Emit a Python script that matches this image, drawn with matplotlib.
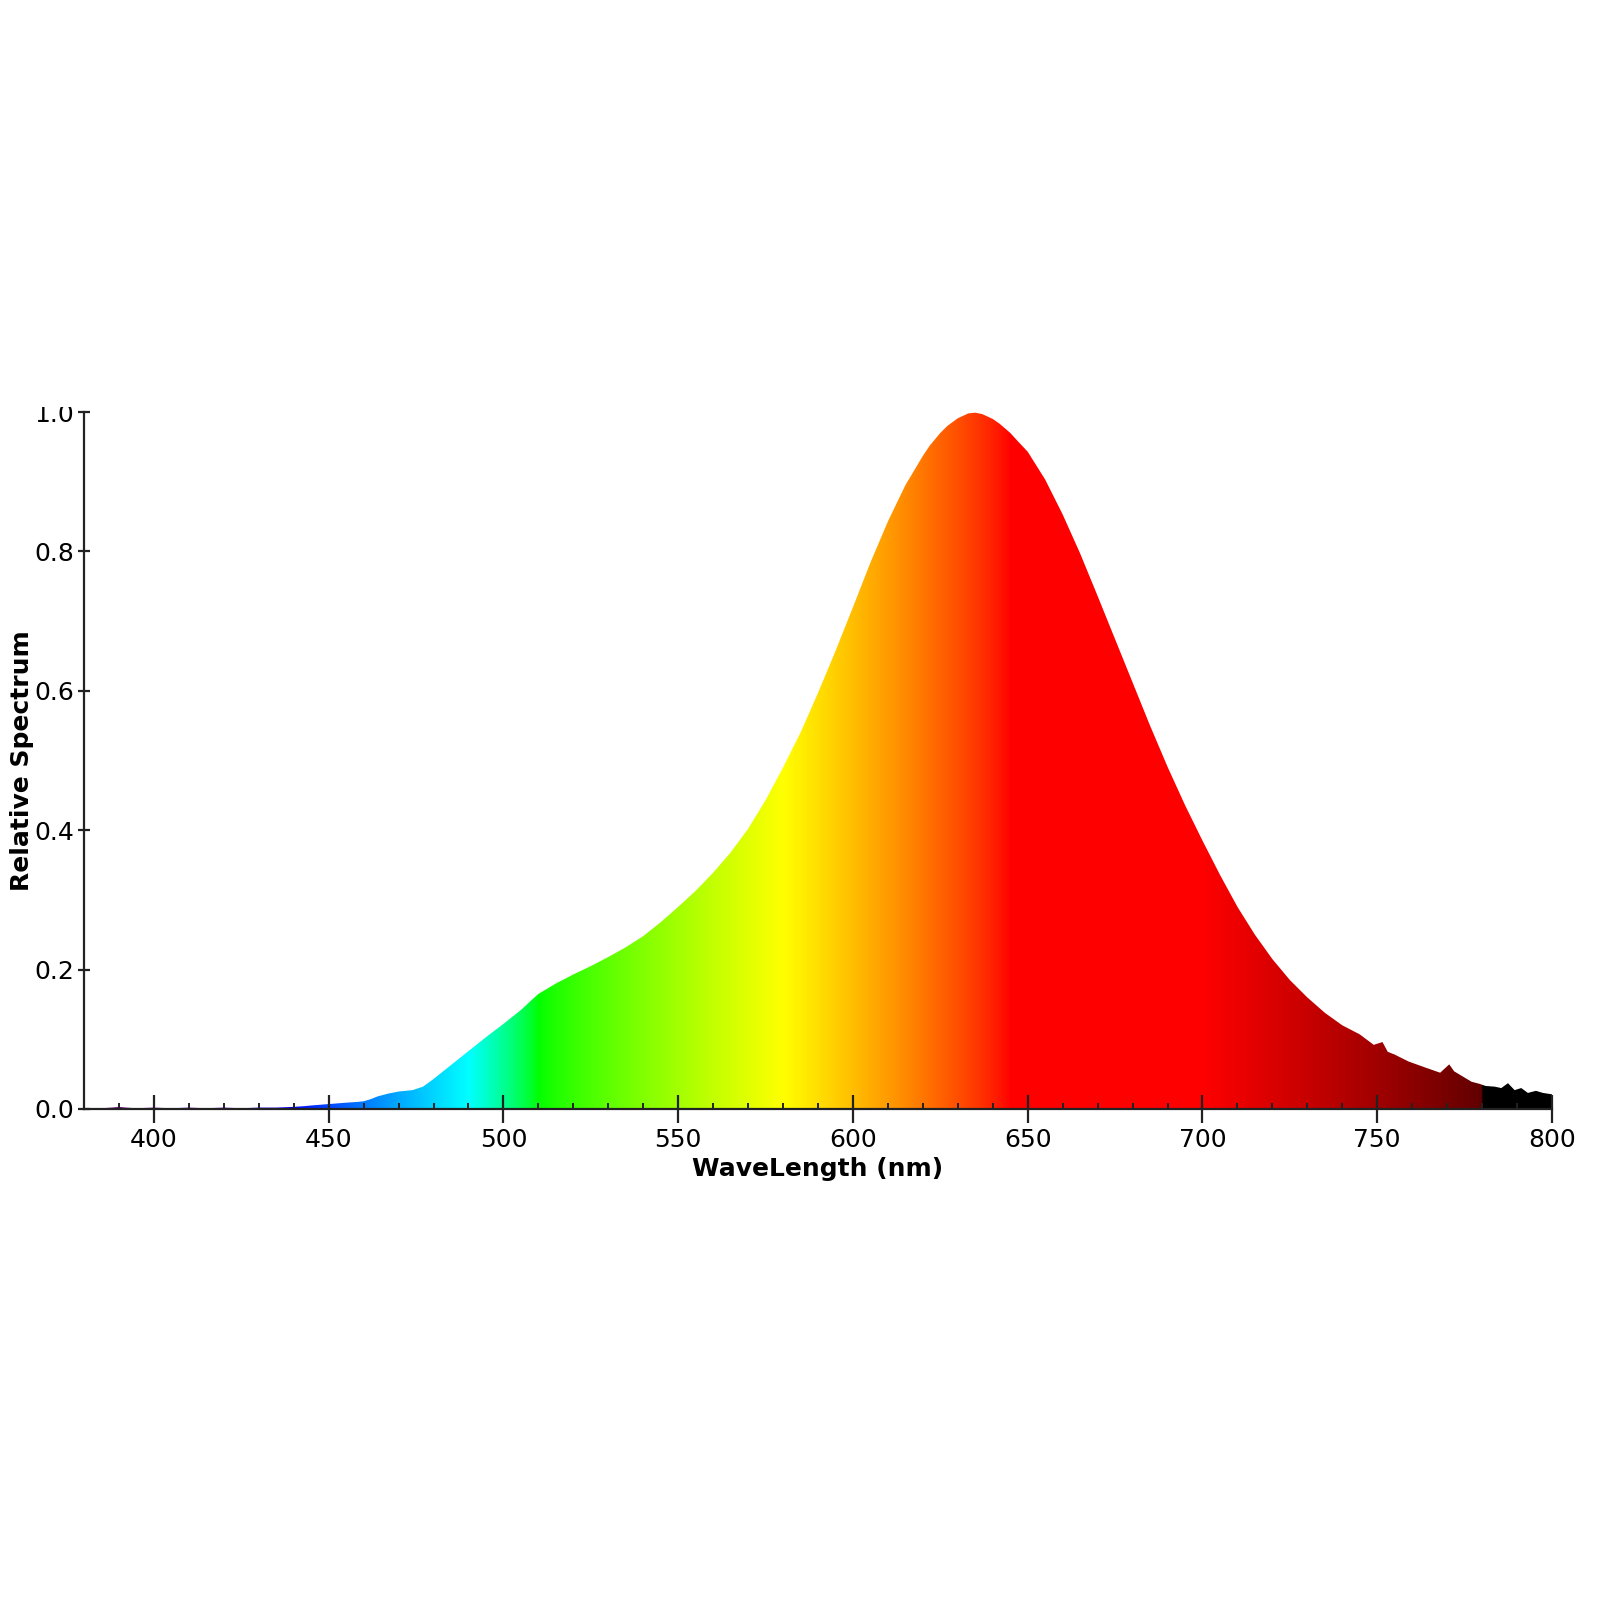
import numpy as np
import matplotlib
matplotlib.use("Agg")
import matplotlib.pyplot as plt
from matplotlib.patches import Polygon, Rectangle

# spectrum (nm, relative value)
wavelength = [380, 385, 388, 390, 392, 395, 400, 405, 410, 415, 420, 425, 430, 435,
              440, 443, 445, 450, 455, 458, 460, 462, 464, 467, 470, 474, 477, 480,
              485, 490, 495, 500, 505, 508, 510, 515, 520, 525, 530, 535, 540, 545,
              550, 555, 560, 565, 570, 575, 580, 585, 590, 595, 600, 605, 610, 615,
              620, 622, 625, 627, 630, 633, 635, 637, 640, 642, 645, 647, 650, 655,
              660, 665, 670, 675, 680, 685, 690, 695, 700, 705, 710, 715, 720, 725,
              730, 735, 740, 745, 749, 751.5, 753, 755, 759, 764, 768, 770.6, 772,
              777, 779.3, 781, 783.6, 785.5, 787.4, 789.3, 791.2, 793.1, 795.4,
              797.4, 800]
spectrum = [0.001, 0.001, 0.002, 0.003, 0.002, 0.001, 0.002, 0.001, 0.002, 0.001,
            0.002, 0.001, 0.002, 0.002, 0.003, 0.004, 0.005, 0.007, 0.009, 0.010,
            0.011, 0.014, 0.018, 0.022, 0.025, 0.027, 0.032, 0.043, 0.063, 0.083,
            0.103, 0.122, 0.142, 0.156, 0.165, 0.180, 0.193, 0.205, 0.218, 0.232,
            0.248, 0.268, 0.290, 0.313, 0.339, 0.368, 0.402, 0.443, 0.490, 0.540,
            0.597, 0.657, 0.720, 0.784, 0.843, 0.895, 0.937, 0.952, 0.970, 0.980,
            0.991, 0.998, 0.999, 0.997, 0.990, 0.983, 0.970, 0.959, 0.943, 0.903,
            0.853, 0.797, 0.736, 0.674, 0.612, 0.550, 0.491, 0.436, 0.385, 0.336,
            0.290, 0.250, 0.215, 0.185, 0.160, 0.138, 0.120, 0.107, 0.092, 0.096,
            0.082, 0.078, 0.068, 0.059, 0.052, 0.064, 0.054, 0.039, 0.036, 0.033,
            0.032, 0.030, 0.037, 0.027, 0.030, 0.023, 0.026, 0.023, 0.021]

xticks = [400, 450, 500, 550, 600, 650, 700, 750, 800]
yticks = [0.0, 0.2, 0.4, 0.6, 0.8, 1.0]


def wl_to_rgb(w, gamma=0.8):
    # approximate visible colour of a wavelength
    if 380 <= w < 440:
        r, g, b = -(w - 440) / 60, 0.0, 1.0
    elif 440 <= w < 490:
        r, g, b = 0.0, (w - 440) / 50, 1.0
    elif 490 <= w < 510:
        r, g, b = 0.0, 1.0, -(w - 510) / 20
    elif 510 <= w < 580:
        r, g, b = (w - 510) / 70, 1.0, 0.0
    elif 580 <= w < 645:
        r, g, b = 1.0, -(w - 645) / 65, 0.0
    elif 645 <= w <= 780:
        r, g, b = 1.0, 0.0, 0.0
    else:
        r, g, b = 0.0, 0.0, 0.0
    if 380 <= w < 420:
        f = 0.3 + 0.7 * (w - 380) / 40
    elif 420 <= w <= 700:
        f = 1.0
    elif 700 < w <= 780:
        f = 0.3 + 0.7 * (780 - w) / 80
    else:
        f = 0.0
    return [(c * f) ** gamma if c > 0 else 0.0 for c in (r, g, b)]


fig = plt.figure(figsize=(16, 16), dpi=100)
ax = fig.add_axes([0.0525, 0.3069, 0.9175, 0.4356])

grid = np.arange(380, 800.01, 0.5)
colors = np.array([[wl_to_rgb(w) for w in grid]])

verts = list(zip(wavelength, spectrum)) + [(800, 0), (380, 0)]
poly = Polygon(verts, closed=True, facecolor='none', edgecolor='none')
ax.add_patch(poly)
img = ax.imshow(colors, extent=[380, 800, 0, 1], aspect='auto', origin='lower',
                interpolation='bilinear')
img.set_clip_path(poly)

ax.set_xlim(380, 800)
ax.set_ylim(0, 1.0)
ax.set_xticks(xticks)
ax.set_xticks(np.arange(390, 800, 10), minor=True)
ax.set_yticks(yticks)
ax.set_yticklabels([f"{v:.1f}" for v in yticks])

for s in ['top', 'right']:
    ax.spines[s].set_visible(False)
for s in ['left', 'bottom']:
    ax.spines[s].set_linewidth(1.6)
    ax.spines[s].set_color('#222222')

ax.tick_params(axis='x', which='major', direction='inout', length=20, width=1.6,
               labelsize=18, pad=4, color='#222222')
ax.tick_params(axis='x', which='minor', direction='in', length=4.5, width=1.4,
               color='#222222')
ax.tick_params(axis='y', which='major', direction='inout', length=8.6, width=1.6,
               labelsize=18, pad=3, color='#222222')

ax.set_xlabel('WaveLength (nm)', fontsize=18, fontweight='bold', labelpad=3)
ax.set_ylabel('Relative Spectrum', fontsize=18, fontweight='bold', labelpad=0)

# top of the "1.0" label is cut off in the original
fig.add_artist(Rectangle((0, 1193 / 1600), 76 / 1600, 1 - 1193 / 1600,
                         transform=fig.transFigure, facecolor='white',
                         edgecolor='none', zorder=10))

fig.savefig('out.png', dpi=100, facecolor='white')
